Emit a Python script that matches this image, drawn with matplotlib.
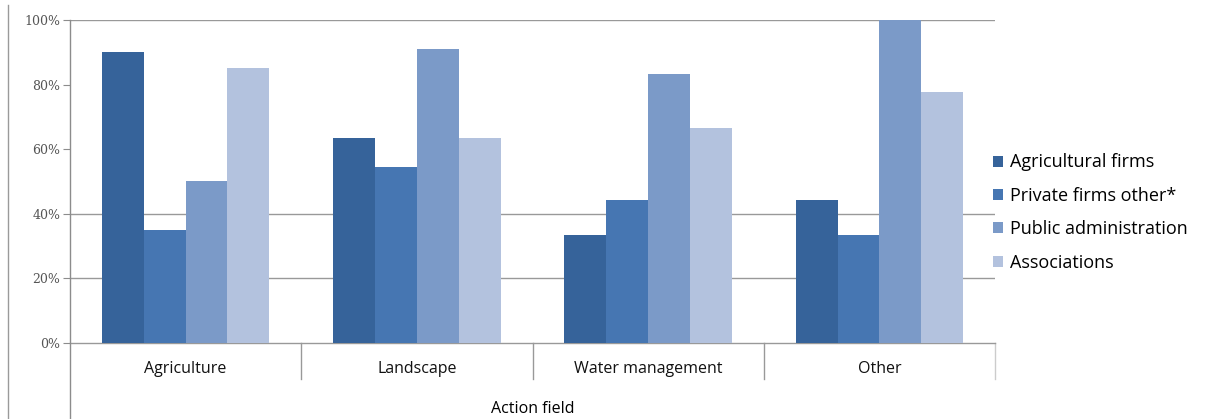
import numpy as np
import matplotlib.pyplot as plt
from matplotlib.lines import Line2D

# share of each actor group active per action field (%)
fields = ["Agriculture", "Landscape", "Water management", "Other"]
agricultural_firms = [90.0, 63.6, 33.3, 44.4]
private_firms_other = [35.0, 54.5, 44.4, 33.3]
public_administration = [50.0, 90.9, 83.3, 100.0]
associations = [85.0, 63.6, 66.7, 77.8]

series = [
    ("Agricultural firms", agricultural_firms, "#36639A"),
    ("Private firms other*", private_firms_other, "#4676B2"),
    ("Public administration", public_administration, "#7B9AC8"),
    ("Associations", associations, "#B3C2DE"),
]

fig = plt.figure(figsize=(12.13, 4.19), dpi=100)
ax = fig.add_axes([70 / 1213, 76 / 419, 925 / 1213, 323 / 419])

x = np.arange(len(fields))
w = 0.181
for i, (name, vals, col) in enumerate(series):
    ax.bar(x + (i - 1.5) * w, vals, width=w, color=col, label=name, zorder=3)

ax.set_xlim(-0.5, len(fields) - 0.5)
ax.set_ylim(0, 100)
ax.set_yticks([0, 20, 40, 60, 80, 100])
ax.set_yticklabels(["0%", "20%", "40%", "60%", "80%", "100%"],
                   fontsize=9, color="#555555", family="DejaVu Serif")
ax.tick_params(axis="y", length=5, width=0.8, color="#8c8c8c", pad=2)

# only a few gridlines survive in the original layout
for g in [20, 40, 100]:
    ax.axhline(g, color="#999999", lw=1.0, zorder=1)

for s in ["top", "right", "left"]:
    ax.spines[s].set_visible(False)
ax.spines["bottom"].set_color("#999999")
ax.spines["bottom"].set_linewidth(1.0)

ax.set_xticks(x)
ax.set_xticklabels(fields, fontsize=11.5, family="Open Sans", color="#111111")
ax.tick_params(axis="x", length=0, pad=13)
ax.set_xlabel("Action field", fontsize=11.5, family="Open Sans", labelpad=17)

# category separators under the axis
for b in np.arange(0.5, len(fields) - 0.5, 1.0):
    ax.plot([b, b], [0, -11], color="#999999", lw=1.0, clip_on=False)
ax.plot([len(fields) - 0.5] * 2, [0, -11], color="#cccccc", lw=1.0, clip_on=False)

# y axis line running down past the category labels, and outer frame
fig.add_artist(Line2D([70 / 1213, 70 / 1213], [0, 399 / 419], color="#8c8c8c", lw=1.0))
fig.add_artist(Line2D([8 / 1213, 8 / 1213], [0, 414 / 419], color="#9a9a9a", lw=1.0))

leg = ax.legend(loc="center left", bbox_to_anchor=(0.98, 0.404), frameon=False,
                prop={"family": "Open Sans", "size": 13}, handlelength=0.55,
                handleheight=0.55, handletextpad=0.4, labelspacing=0.85)

fig.savefig("out.png", dpi=100)
